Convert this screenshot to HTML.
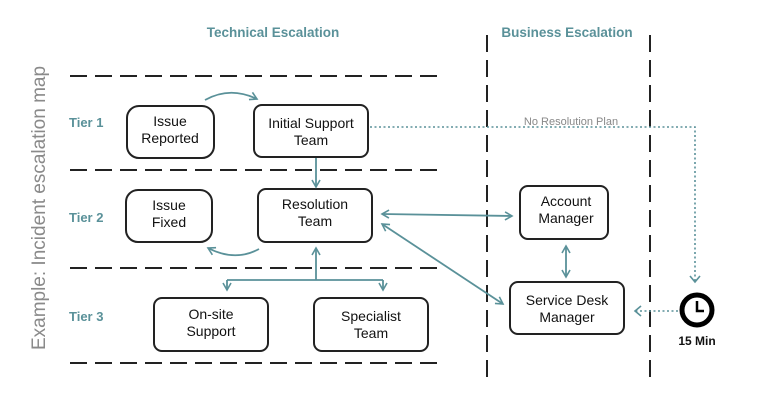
<!DOCTYPE html>
<html><head><meta charset="utf-8"><style>
html,body{margin:0;padding:0;background:#fff;}
svg{display:block;font-family:"Liberation Sans",sans-serif;}
</style></head><body>
<svg width="768" height="410" viewBox="0 0 768 410" xmlns="http://www.w3.org/2000/svg">
<defs>
<marker id="a" markerWidth="10" markerHeight="10" refX="8" refY="5" orient="auto-start-reverse" markerUnits="userSpaceOnUse">
<path d="M1,1 L8,5 L1,9" fill="none" stroke="#5a9199" stroke-width="1.6"/>
</marker>
</defs>
<g stroke="#222" stroke-width="2" stroke-dasharray="17,8">
<line x1="70" y1="76" x2="440" y2="76"/>
<line x1="70" y1="170" x2="440" y2="170"/>
<line x1="70" y1="268" x2="440" y2="268"/>
<line x1="70" y1="363" x2="440" y2="363"/>
<line x1="487" y1="35" x2="487" y2="385"/>
<line x1="650" y1="35" x2="650" y2="385"/>
</g>
<text x="273" y="37" font-size="13.5" font-weight="bold" fill="#5a9199" text-anchor="middle">Technical Escalation</text>
<text x="567" y="37" font-size="13.5" font-weight="bold" fill="#5a9199" text-anchor="middle">Business Escalation</text>
<text transform="translate(45,208) rotate(-90)" font-size="19" fill="#8a8a8a" text-anchor="middle">Example: Incident escalation map</text>
<g font-size="13" font-weight="bold" fill="#5a9199">
<text x="69" y="127">Tier 1</text>
<text x="69" y="222">Tier 2</text>
<text x="69" y="321">Tier 3</text>
</g>
<g fill="#fff" stroke="#222" stroke-width="2">
<rect x="127" y="106" width="87" height="52" rx="12"/>
<rect x="254" y="105" width="114" height="52" rx="8"/>
<rect x="126" y="190" width="86" height="52" rx="12"/>
<rect x="258" y="189" width="114" height="53" rx="8"/>
<rect x="154" y="298" width="114" height="53" rx="8"/>
<rect x="314" y="298" width="114" height="53" rx="8"/>
<rect x="520" y="186" width="88" height="53" rx="8"/>
<rect x="510" y="282" width="114" height="52" rx="8"/>
</g>
<g font-size="14" fill="#111" text-anchor="middle">
<text x="170" y="126">Issue</text><text x="170" y="143">Reported</text>
<text x="311" y="128">Initial Support</text><text x="311" y="145">Team</text>
<text x="169" y="210">Issue</text><text x="169" y="227">Fixed</text>
<text x="315" y="209">Resolution</text><text x="315" y="226">Team</text>
<text x="211" y="319">On-site</text><text x="211" y="336">Support</text>
<text x="371" y="321">Specialist</text><text x="371" y="338">Team</text>
<text x="566" y="206">Account</text><text x="566" y="223">Manager</text>
<text x="567" y="305">Service Desk</text><text x="567" y="322">Manager</text>
</g>
<g fill="none" stroke="#5a9199" stroke-width="1.8">
<path d="M205,100 Q230,86 257,99" marker-end="url(#a)"/>
<line x1="316" y1="158" x2="316" y2="187" marker-end="url(#a)"/>
<path d="M259,249 Q235,262 208,248" marker-end="url(#a)"/>
<line x1="316" y1="280" x2="316" y2="248" marker-end="url(#a)"/>
<path d="M227,280 L383,280"/>
<line x1="227" y1="280" x2="227" y2="290" marker-end="url(#a)"/>
<line x1="383" y1="280" x2="383" y2="290" marker-end="url(#a)"/>
<line x1="382" y1="214" x2="512" y2="216" marker-start="url(#a)" marker-end="url(#a)"/>
<line x1="382" y1="224" x2="503" y2="304" marker-start="url(#a)" marker-end="url(#a)"/>
<line x1="566" y1="246" x2="566" y2="277" marker-start="url(#a)" marker-end="url(#a)"/>
</g>
<g fill="none" stroke="#5a9199" stroke-width="1.6" stroke-dasharray="2,2.5">
<path d="M370,127 L695,127 L695,282"/>
<line x1="678" y1="311" x2="636" y2="311"/>
</g>
<g fill="none" stroke="#5a9199" stroke-width="1.6">
<path d="M690,276 L695,282 L700,276"/>
<path d="M641,306 L635,311 L641,316"/>
</g>
<rect x="520" y="116" width="104" height="10" fill="#fff"/>
<text x="571" y="125" font-size="11" fill="#888" text-anchor="middle">No Resolution Plan</text>
<circle cx="697" cy="310" r="15" fill="#fff" stroke="#000" stroke-width="5"/>
<path d="M697,301 L697,311 L704,311" fill="none" stroke="#000" stroke-width="2.5"/>
<text x="697" y="345" font-size="12" font-weight="bold" fill="#111" text-anchor="middle">15 Min</text>
</svg>
</body></html>
